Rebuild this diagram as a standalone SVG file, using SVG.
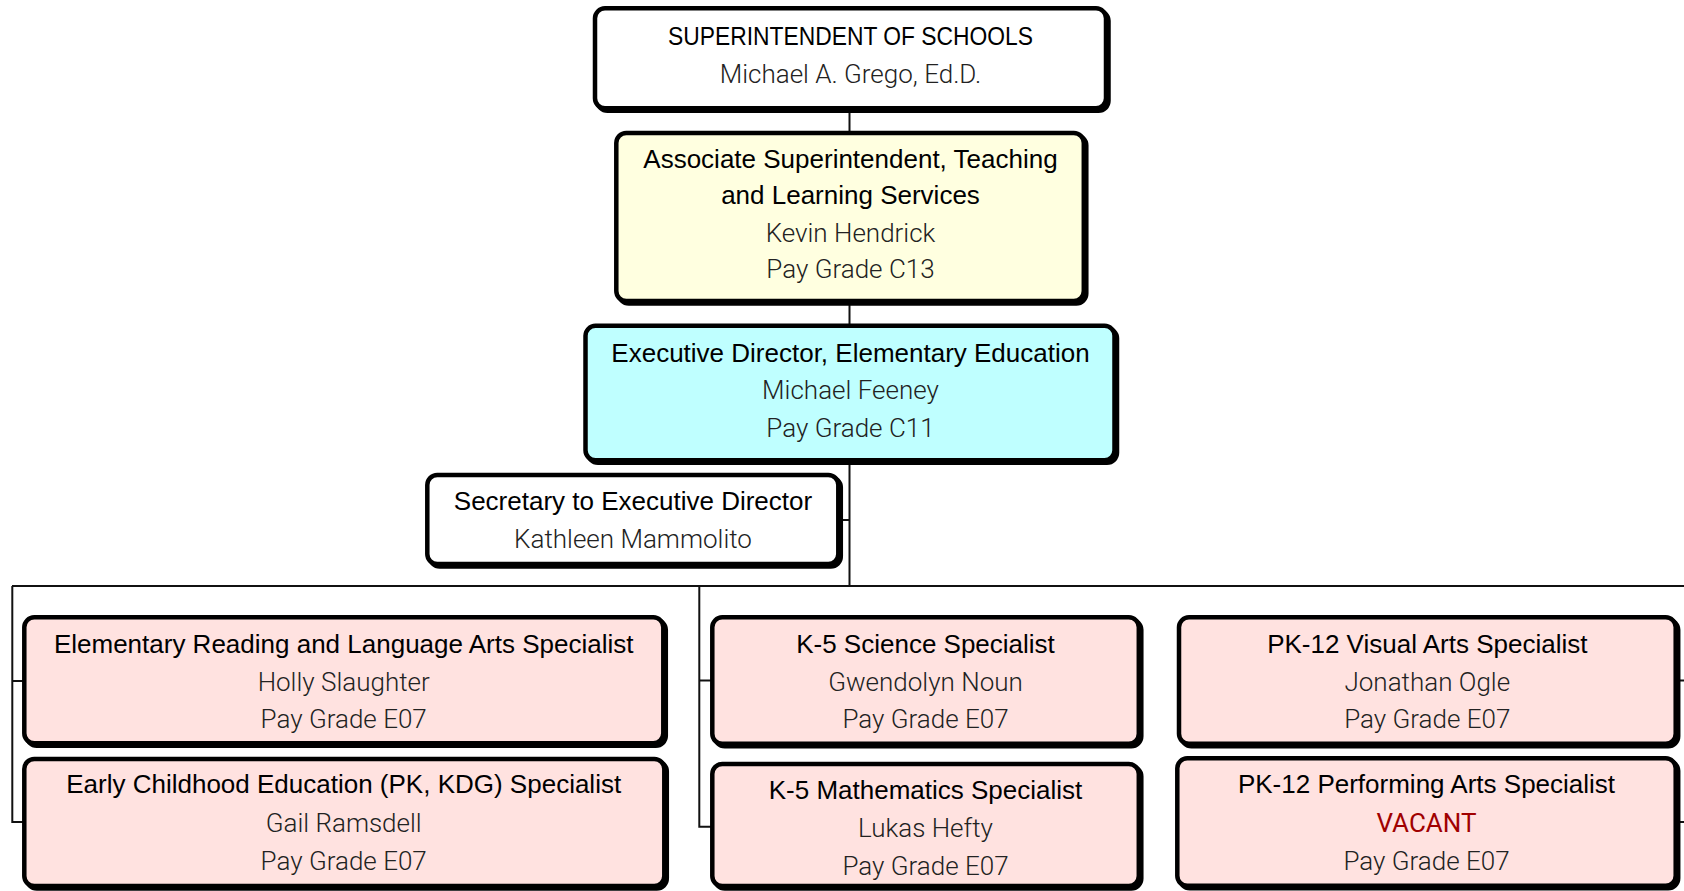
<svg xmlns="http://www.w3.org/2000/svg" width="1684" height="891" viewBox="0 0 1684 891">
<style>
  .sh { fill: #000; stroke: #000; stroke-width: 4.5; }
  .box { stroke: #000; stroke-width: 4.5; }
  .w { fill: #fff; }
  .y { fill: #ffffe0; }
  .c { fill: #bfffff; }
  .p { fill: #ffe2e0; }
  text { font-family: "Liberation Sans", Arial, sans-serif; font-size: 26px; text-anchor: middle; }
  .t { fill: #000; }
  .n { font-family: Roboto, "Liberation Sans", sans-serif; font-weight: 300; fill: #222; }
  .v { font-family: Roboto, "Liberation Sans", sans-serif; fill: #a00000; }
  .ln { stroke: #111; stroke-width: 2; fill: none; }
</style>
<rect width="1684" height="891" fill="#fff"/>
<g id="connectors">
  <line class="ln" x1="849.5" y1="110" x2="849.5" y2="132"/>
  <line class="ln" x1="849.5" y1="303" x2="849.5" y2="325"/>
  <line class="ln" x1="849.5" y1="462" x2="849.5" y2="586"/>
  <line class="ln" x1="840" y1="520" x2="849.5" y2="520"/>
  <line class="ln" x1="12" y1="586" x2="1684" y2="586"/>
  <polyline class="ln" points="12.3,586 12.3,822 24,822"/>
  <line class="ln" x1="12.3" y1="681" x2="24" y2="681"/>
  <polyline class="ln" points="699.3,586 699.3,826.7 712,826.7"/>
  <line class="ln" x1="699.3" y1="680.5" x2="712" y2="680.5"/>
  <line class="ln" x1="1676" y1="680.5" x2="1684" y2="680.5"/>
  <line class="ln" x1="1676" y1="822" x2="1684" y2="822"/>
</g>
<g id="superintendent">
  <rect class="sh" x="597.5" y="10.8" width="511" height="100" rx="10"/>
  <rect class="box w" x="595" y="8.3" width="511" height="100" rx="10"/>
  <text class="t" x="850.5" y="45" textLength="365" lengthAdjust="spacingAndGlyphs">SUPERINTENDENT OF SCHOOLS</text>
  <text class="n" x="850.5" y="82.7">Michael A. Grego, Ed.D.</text>
</g>
<g id="associate">
  <rect class="sh" x="618.8" y="135.5" width="467.5" height="168" rx="10"/>
  <rect class="box y" x="616.3" y="133" width="467.5" height="168" rx="10"/>
  <text class="t" x="850.5" y="168.3">Associate Superintendent, Teaching</text>
  <text class="t" x="850.5" y="204">and Learning Services</text>
  <text class="n" x="850.5" y="241.7">Kevin Hendrick</text>
  <text class="n" x="850.5" y="277.7">Pay Grade C13</text>
</g>
<g id="executive">
  <rect class="sh" x="588" y="328.3" width="529" height="134.5" rx="10"/>
  <rect class="box c" x="585.5" y="325.8" width="529" height="134.5" rx="10"/>
  <text class="t" x="850.5" y="361.7">Executive Director, Elementary Education</text>
  <text class="n" x="850.5" y="399.3">Michael Feeney</text>
  <text class="n" x="850.5" y="436.7">Pay Grade C11</text>
</g>
<g id="secretary">
  <rect class="sh" x="429.8" y="477.5" width="411" height="89" rx="10"/>
  <rect class="box w" x="427.3" y="475" width="411" height="89" rx="10"/>
  <text class="t" x="633" y="510">Secretary to Executive Director</text>
  <text class="n" x="633" y="548.3">Kathleen Mammolito</text>
</g>
<g id="reading">
  <rect class="sh" x="26.8" y="619.8" width="639" height="126" rx="10"/>
  <rect class="box p" x="24.3" y="617.3" width="639" height="126" rx="10"/>
  <text class="t" x="343.7" y="652.7">Elementary Reading and Language Arts Specialist</text>
  <text class="n" x="343.7" y="690.5">Holly Slaughter</text>
  <text class="n" x="343.7" y="728">Pay Grade E07</text>
</g>
<g id="early-childhood">
  <rect class="sh" x="26.8" y="761.5" width="640" height="127" rx="10"/>
  <rect class="box p" x="24.3" y="759" width="640" height="127" rx="10"/>
  <text class="t" x="343.7" y="793.3">Early Childhood Education (PK, KDG) Specialist</text>
  <text class="n" x="343.7" y="831.7">Gail Ramsdell</text>
  <text class="n" x="343.7" y="870">Pay Grade E07</text>
</g>
<g id="science">
  <rect class="sh" x="714.8" y="619.8" width="426.5" height="126.5" rx="10"/>
  <rect class="box p" x="712.3" y="617.3" width="426.5" height="126.5" rx="10"/>
  <text class="t" x="925.5" y="652.7">K-5 Science Specialist</text>
  <text class="n" x="925.5" y="690.5">Gwendolyn Noun</text>
  <text class="n" x="925.5" y="728">Pay Grade E07</text>
</g>
<g id="mathematics">
  <rect class="sh" x="714.8" y="766.5" width="426.5" height="122" rx="10"/>
  <rect class="box p" x="712.3" y="764" width="426.5" height="122" rx="10"/>
  <text class="t" x="925.5" y="799.3">K-5 Mathematics Specialist</text>
  <text class="n" x="925.5" y="837">Lukas Hefty</text>
  <text class="n" x="925.5" y="874.5">Pay Grade E07</text>
</g>
<g id="visual-arts">
  <rect class="sh" x="1181.5" y="619.8" width="496.7" height="126.5" rx="10"/>
  <rect class="box p" x="1179" y="617.3" width="496.7" height="126.5" rx="10"/>
  <text class="t" x="1427.3" y="652.7">PK-12 Visual Arts Specialist</text>
  <text class="n" x="1427.3" y="690.5">Jonathan Ogle</text>
  <text class="n" x="1427.3" y="728">Pay Grade E07</text>
</g>
<g id="performing-arts">
  <rect class="sh" x="1179.8" y="760.8" width="498.4" height="127.5" rx="10"/>
  <rect class="box p" x="1177.3" y="758.3" width="498.4" height="127.5" rx="10"/>
  <text class="t" x="1426.5" y="793.3">PK-12 Performing Arts Specialist</text>
  <text class="v" x="1426.5" y="831.7">VACANT</text>
  <text class="n" x="1426.5" y="870">Pay Grade E07</text>
</g>
</svg>
